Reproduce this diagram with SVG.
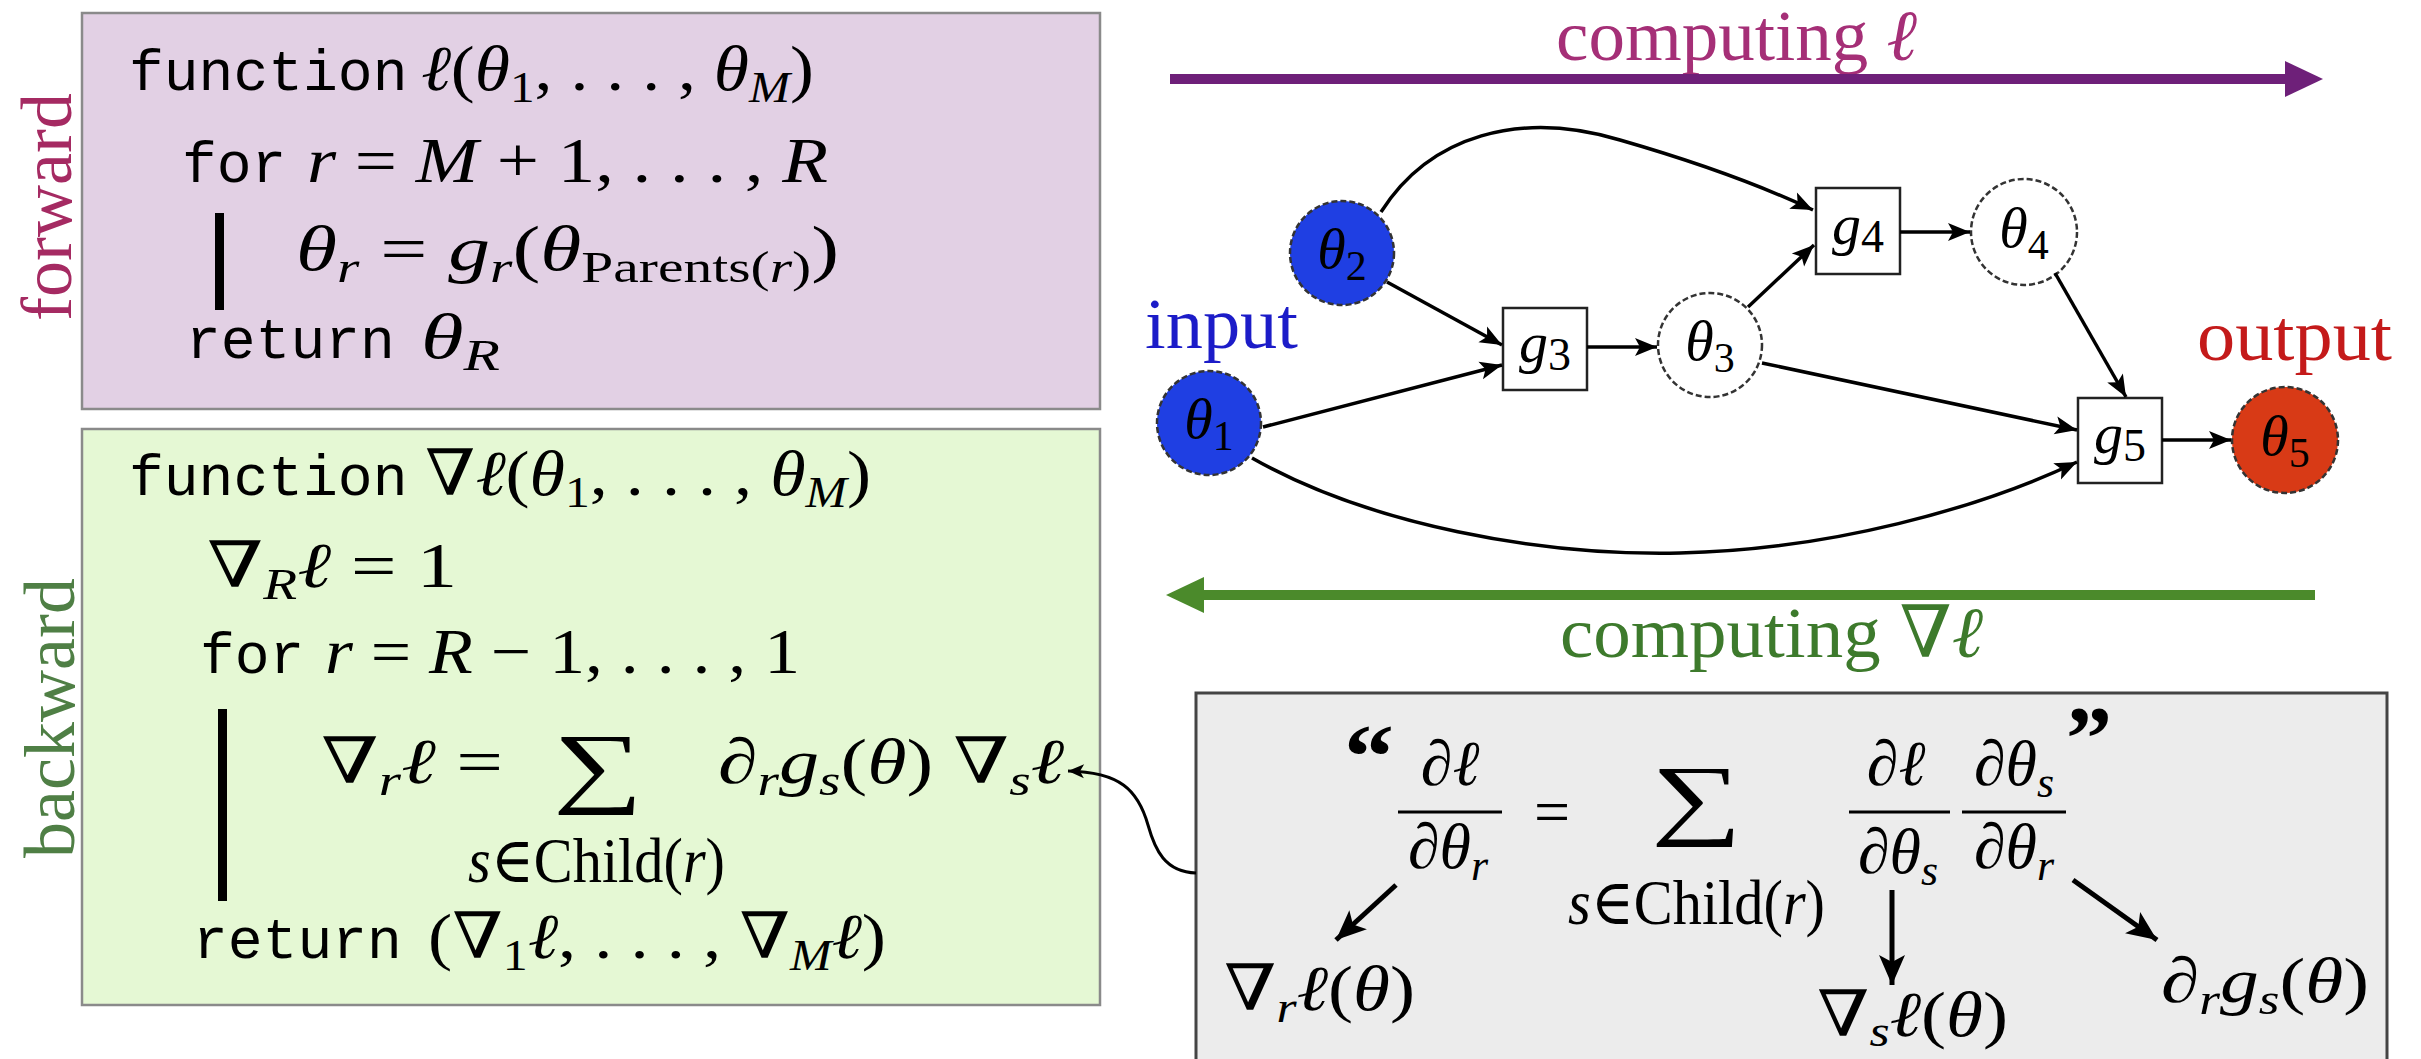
<svg xmlns="http://www.w3.org/2000/svg" width="2421" height="1059" viewBox="0 0 2421 1059">
<style>
.t{font-family:"Liberation Mono","DejaVu Sans Mono",monospace;font-size:58px;fill:#000}
.m{font-family:"Liberation Serif","DejaVu Serif",serif;font-size:64px;fill:#000}
.i{font-style:italic}
.s{font-size:44px}
.big{font-family:"Liberation Serif","DejaVu Serif",serif;font-size:90px;fill:#000}
.lbl{font-family:"Liberation Serif","DejaVu Serif",serif;font-size:72px}
.edge{fill:none;stroke:#000;stroke-width:3.5}
.gbox{fill:#fff;stroke:#222;stroke-width:2.5}
.circ{stroke:#333;stroke-width:2.5;stroke-dasharray:6 3}
.nl{font-family:"Liberation Serif","DejaVu Serif",serif;font-size:58px;fill:#000}
.ar{fill:none;stroke:#000;stroke-width:5}
.fb{stroke:#000;stroke-width:3}
</style>
<defs>
<marker id="ah" markerUnits="userSpaceOnUse" markerWidth="30" markerHeight="24" viewBox="-24 -12 26 24" refX="0" refY="0" orient="auto"><path d="M0,0 L-22,-9 L-17,0 L-22,9 Z" fill="#000"/></marker>
<marker id="ahS" markerUnits="userSpaceOnUse" markerWidth="22" markerHeight="18" viewBox="-18 -9 20 18" refX="0" refY="0" orient="auto"><path d="M0,0 L-16,-7 L-12,0 L-16,7 Z" fill="#000"/></marker>
<marker id="ahB" markerUnits="userSpaceOnUse" markerWidth="36" markerHeight="32" viewBox="-32 -16 34 32" refX="0" refY="0" orient="auto"><path d="M0,0 L-30,-13 L-23,0 L-30,13 Z" fill="#000"/></marker>
</defs>
<rect width="2421" height="1059" fill="#fff"/>

<g id="forward-box">
<rect x="82" y="13" width="1018" height="396" fill="#e2d0e4" stroke="#8a8a8a" stroke-width="2.5"/>
<text class="t" x="129" y="90">function</text>
<text class="m" x="421" y="90" textLength="393" lengthAdjust="spacingAndGlyphs"><tspan class="i">ℓ</tspan>(<tspan class="i">θ</tspan><tspan class="s" dy="12">1</tspan><tspan dy="-12">, . . . , </tspan><tspan class="i">θ</tspan><tspan class="s i" dy="12">M</tspan><tspan dy="-12">)</tspan></text>
<text class="t" x="182" y="182">for</text>
<text class="m" x="307" y="182" textLength="521" lengthAdjust="spacingAndGlyphs"><tspan class="i">r</tspan> = <tspan class="i">M</tspan> + 1, . . . , <tspan class="i">R</tspan></text>
<rect x="215" y="213" width="9" height="97" fill="#000"/>
<text class="m" x="296" y="270" textLength="543" lengthAdjust="spacingAndGlyphs"><tspan class="i">θ</tspan><tspan class="s i" dy="12">r</tspan><tspan dy="-12"> = </tspan><tspan class="i">g</tspan><tspan class="s i" dy="12">r</tspan><tspan dy="-12">(</tspan><tspan class="i">θ</tspan><tspan class="s" dy="12">Parents(</tspan><tspan class="s i">r</tspan><tspan class="s">)</tspan><tspan dy="-12">)</tspan></text>
<text class="t" x="186" y="358">return</text>
<text class="m" x="421" y="358" textLength="79" lengthAdjust="spacingAndGlyphs"><tspan class="i">θ</tspan><tspan class="s i" dy="12">R</tspan></text>
<text class="lbl" transform="translate(71,207) rotate(-90)" text-anchor="middle" fill="#a52a62" font-size="70">forward</text>
</g>

<g id="backward-box">
<rect x="82" y="429" width="1018" height="576" fill="#e5f8d4" stroke="#8a8a8a" stroke-width="2.5"/>
<text class="t" x="129" y="495">function</text>
<text class="m" x="425" y="495" textLength="446" lengthAdjust="spacingAndGlyphs">∇<tspan class="i">ℓ</tspan>(<tspan class="i">θ</tspan><tspan class="s" dy="12">1</tspan><tspan dy="-12">, . . . , </tspan><tspan class="i">θ</tspan><tspan class="s i" dy="12">M</tspan><tspan dy="-12">)</tspan></text>
<text class="m" x="207" y="587" textLength="250" lengthAdjust="spacingAndGlyphs">∇<tspan class="s i" dy="12">R</tspan><tspan class="i" dy="-12">ℓ</tspan> = 1</text>
<text class="t" x="200" y="673">for</text>
<text class="m" x="325" y="673" textLength="475" lengthAdjust="spacingAndGlyphs"><tspan class="i">r</tspan> = <tspan class="i">R</tspan> − 1, . . . , 1</text>
<rect x="218" y="709" width="9" height="192" fill="#000"/>
<text class="m" x="321" y="783" textLength="182" lengthAdjust="spacingAndGlyphs">∇<tspan class="s i" dy="12">r</tspan><tspan class="i" dy="-12">ℓ</tspan> =</text>
<text class="big" x="553" y="796" textLength="90" lengthAdjust="spacingAndGlyphs">∑</text>
<text class="m" x="468" y="882" font-size="46" textLength="257" lengthAdjust="spacingAndGlyphs"><tspan class="i">s</tspan>∈Child(<tspan class="i">r</tspan>)</text>
<text class="m" x="718" y="783" textLength="346" lengthAdjust="spacingAndGlyphs"><tspan class="i">∂</tspan><tspan class="s i" dy="12">r</tspan><tspan class="i" dy="-12">g</tspan><tspan class="s i" dy="12">s</tspan><tspan dy="-12">(</tspan><tspan class="i">θ</tspan>) ∇<tspan class="s i" dy="12">s</tspan><tspan class="i" dy="-12">ℓ</tspan></text>
<text class="t" x="193" y="958">return</text>
<text class="m" x="428" y="958" textLength="458" lengthAdjust="spacingAndGlyphs">(∇<tspan class="s" dy="12">1</tspan><tspan class="i" dy="-12">ℓ</tspan>, . . . , ∇<tspan class="s i" dy="12">M</tspan><tspan class="i" dy="-12">ℓ</tspan>)</text>
<text class="lbl" transform="translate(74,718) rotate(-90)" text-anchor="middle" fill="#4f7f45" font-size="70">backward</text>
</g>

<g id="chain-rule-box">
<rect x="1196" y="693" width="1191" height="380" fill="#ececec" stroke="#444" stroke-width="3"/>
<text x="1344" y="787" font-family="Liberation Serif, DejaVu Serif, serif" font-weight="bold" font-size="90" textLength="50" lengthAdjust="spacingAndGlyphs">“</text>
<text class="m" x="1450" y="785" font-size="68" text-anchor="middle"><tspan class="i">∂ℓ</tspan></text>
<line class="fb" x1="1398" y1="812" x2="1502" y2="812"/>
<text class="m" x="1448" y="868" font-size="68" text-anchor="middle"><tspan class="i">∂θ</tspan><tspan class="s i" dy="12">r</tspan></text>
<text class="m" x="1552" y="833" font-size="68" text-anchor="middle">=</text>
<text class="big" x="1651" y="828" textLength="91" lengthAdjust="spacingAndGlyphs">∑</text>
<text class="m" x="1568" y="924" font-size="46" textLength="257" lengthAdjust="spacingAndGlyphs"><tspan class="i">s</tspan>∈Child(<tspan class="i">r</tspan>)</text>
<text class="m" x="1896" y="785" font-size="68" text-anchor="middle"><tspan class="i">∂ℓ</tspan></text>
<line class="fb" x1="1849" y1="812" x2="1950" y2="812"/>
<text class="m" x="1898" y="873" font-size="68" text-anchor="middle"><tspan class="i">∂θ</tspan><tspan class="s i" dy="12">s</tspan></text>
<text class="m" x="2014" y="785" font-size="68" text-anchor="middle"><tspan class="i">∂θ</tspan><tspan class="s i" dy="12">s</tspan></text>
<line class="fb" x1="1962" y1="812" x2="2066" y2="812"/>
<text class="m" x="2014" y="868" font-size="68" text-anchor="middle"><tspan class="i">∂θ</tspan><tspan class="s i" dy="12">r</tspan></text>
<text x="2066" y="769" font-family="Liberation Serif, DejaVu Serif, serif" font-weight="bold" font-size="90" textLength="46" lengthAdjust="spacingAndGlyphs">”</text>
<text class="m" x="1224" y="1010" font-size="68" textLength="191" lengthAdjust="spacingAndGlyphs">∇<tspan class="s i" dy="12">r</tspan><tspan class="i" dy="-12">ℓ</tspan>(<tspan class="i">θ</tspan>)</text>
<text class="m" x="1817" y="1036" font-size="66" textLength="191" lengthAdjust="spacingAndGlyphs">∇<tspan class="s i" dy="10">s</tspan><tspan class="i" dy="-10">ℓ</tspan>(<tspan class="i">θ</tspan>)</text>
<text class="m" x="2161" y="1002" font-size="68" textLength="208" lengthAdjust="spacingAndGlyphs"><tspan class="i">∂</tspan><tspan class="s i" dy="12">r</tspan><tspan class="i" dy="-12">g</tspan><tspan class="s i" dy="12">s</tspan><tspan dy="-12">(</tspan><tspan class="i">θ</tspan>)</text>
<line class="ar" x1="1396" y1="885" x2="1336" y2="940" marker-end="url(#ahB)"/>
<line class="ar" x1="1892" y1="890" x2="1892" y2="985" marker-end="url(#ahB)"/>
<line class="ar" x1="2073" y1="880" x2="2157" y2="940" marker-end="url(#ahB)"/>
</g>

<g id="flow-arrows">
<text class="lbl" x="1556" y="60" fill="#a52f77" font-size="58" textLength="361" lengthAdjust="spacingAndGlyphs">computing <tspan class="i">ℓ</tspan></text>
<line x1="1170" y1="79" x2="2290" y2="79" stroke="#6e2079" stroke-width="10"/>
<polygon points="2323,79 2285,61 2285,97" fill="#6e2079"/>
<line x1="1200" y1="595" x2="2315" y2="595" stroke="#4b8a2b" stroke-width="10"/>
<polygon points="1166,595 1204,577 1204,613" fill="#4b8a2b"/>
<text class="lbl" x="1560" y="657" fill="#3d7a2c" font-size="66" textLength="423" lengthAdjust="spacingAndGlyphs">computing ∇<tspan class="i">ℓ</tspan></text>
</g>

<g id="theta1">
<circle class="circ" cx="1209" cy="423" r="52" fill="#1f3fe3"/>
<text class="nl" x="1209" y="438" text-anchor="middle"><tspan class="i">θ</tspan><tspan font-size="42" dy="12">1</tspan></text>
</g>
<g id="theta2">
<circle class="circ" cx="1342" cy="253" r="52" fill="#1f3fe3"/>
<text class="nl" x="1342" y="268" text-anchor="middle"><tspan class="i">θ</tspan><tspan font-size="42" dy="12">2</tspan></text>
</g>
<g id="g3">
<rect class="gbox" x="1503" y="308" width="84" height="82"/>
<text class="nl" x="1545" y="362" text-anchor="middle" font-size="62"><tspan class="i">g</tspan><tspan font-size="46" dy="8">3</tspan></text>
</g>
<g id="theta3">
<circle class="circ" cx="1710" cy="345" r="52" fill="#fff"/>
<text class="nl" x="1710" y="360" text-anchor="middle"><tspan class="i">θ</tspan><tspan font-size="42" dy="12">3</tspan></text>
</g>
<g id="g4">
<rect class="gbox" x="1816" y="188" width="84" height="86"/>
<text class="nl" x="1858" y="244" text-anchor="middle" font-size="62"><tspan class="i">g</tspan><tspan font-size="46" dy="8">4</tspan></text>
</g>
<g id="theta4">
<circle class="circ" cx="2024" cy="232" r="53" fill="#fff"/>
<text class="nl" x="2024" y="247" text-anchor="middle"><tspan class="i">θ</tspan><tspan font-size="42" dy="12">4</tspan></text>
</g>
<g id="g5">
<rect class="gbox" x="2078" y="398" width="84" height="85"/>
<text class="nl" x="2120" y="453" text-anchor="middle" font-size="62"><tspan class="i">g</tspan><tspan font-size="46" dy="8">5</tspan></text>
</g>
<g id="theta5">
<circle class="circ" cx="2285" cy="440" r="53" fill="#d83a16"/>
<text class="nl" x="2285" y="455" text-anchor="middle"><tspan class="i">θ</tspan><tspan font-size="42" dy="12">5</tspan></text>
</g>
<g id="labels">
<text class="lbl" x="1145" y="348" fill="#1c1cc8" font-size="74" textLength="153" lengthAdjust="spacingAndGlyphs">input</text>
<text class="lbl" x="2197" y="360" fill="#c41a1a" font-size="74" textLength="195" lengthAdjust="spacingAndGlyphs">output</text>
</g>

<g id="connectors">
<path class="edge" d="M1381,212 C1430,135 1520,110 1620,140 C1700,163 1760,185 1813,210" marker-end="url(#ah)"/>
<line class="edge" x1="1387" y1="282" x2="1502" y2="345" marker-end="url(#ah)"/>
<line class="edge" x1="1263" y1="427" x2="1502" y2="365" marker-end="url(#ah)"/>
<path class="edge" d="M1252,458 C1370,525 1540,556 1680,553 C1830,550 1980,508 2077,462" marker-end="url(#ah)"/>
<line class="edge" x1="1587" y1="347" x2="1657" y2="347" marker-end="url(#ah)"/>
<line class="edge" x1="1748" y1="307" x2="1814" y2="245" marker-end="url(#ah)"/>
<line class="edge" x1="1762" y1="363" x2="2077" y2="430" marker-end="url(#ah)"/>
<line class="edge" x1="1900" y1="232" x2="1970" y2="232" marker-end="url(#ah)"/>
<line class="edge" x1="2055" y1="273" x2="2126" y2="397" marker-end="url(#ah)"/>
<line class="edge" x1="2162" y1="440" x2="2231" y2="440" stroke-width="5" marker-end="url(#ah)"/>
<path fill="none" stroke="#000" stroke-width="3" d="M1196,873 C1165,872 1155,850 1148,825 C1138,790 1120,772 1068,771" marker-end="url(#ahS)"/>
</g>
</svg>
